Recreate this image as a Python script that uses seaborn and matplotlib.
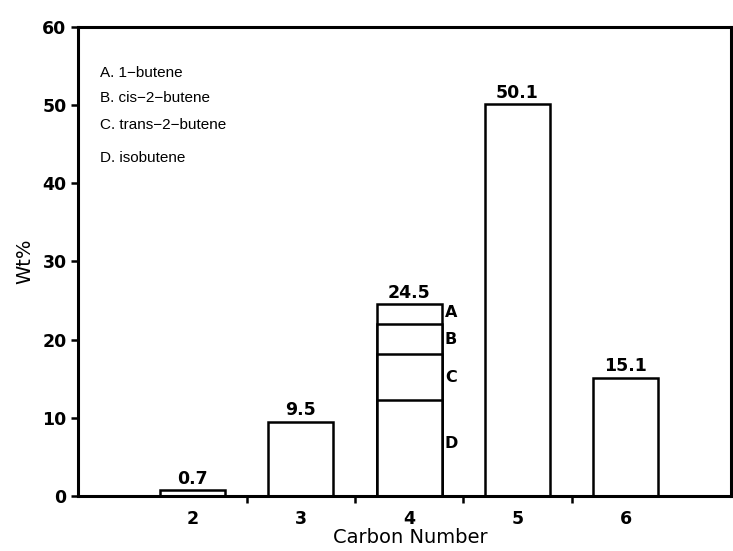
import matplotlib
matplotlib.use("Agg")
import matplotlib.pyplot as plt
import seaborn as sns
import pandas as pd

# Product distribution by carbon number
carbon_numbers = [2, 3, 4, 5, 6]
wt_percent = [0.7, 9.5, 24.5, 50.1, 15.1]

# C4 breakdown, bottom to top
c4_species = ["D", "C", "B", "A"]
c4_wt = [12.3, 5.9, 3.8, 2.5]
c4_names = ["1\u2212butene", "cis\u22122\u2212butene", "trans\u22122\u2212butene", "isobutene"]
c4_letters = ["A", "B", "C", "D"]
c4_label_y = [23.5, 20.0, 15.2, 6.7]

y_ticks = [0, 10, 20, 30, 40, 50, 60]

sns.set_theme(style="white")
plt.rcParams["font.family"] = ["DejaVu Sans"]
plt.rcParams["text.color"] = "black"
plt.rcParams["axes.labelcolor"] = "black"
plt.rcParams["xtick.color"] = "black"
plt.rcParams["ytick.color"] = "black"

fig = plt.figure(figsize=(7.33, 5.51), dpi=100)
ax = fig.add_axes([0.106, 0.10, 0.891, 0.851])

df = pd.DataFrame({"carbon": carbon_numbers, "wt": wt_percent})
bar_kw = dict(color="white", edgecolor="black", linewidth=1.8,
              native_scale=True, width=0.6, ax=ax)
sns.barplot(data=df, x="carbon", y="wt", **bar_kw)

# stacked C4 segments: overlay cumulative heights, tallest first
cum = []
total = 0.0
for v in c4_wt:
    total += v
    cum.append(round(total, 2))
for h in sorted(cum, reverse=True)[1:]:
    sns.barplot(x=[4], y=[h], **bar_kw)

bold = dict(family=["DejaVu Sans"], fontweight="bold")

# value labels
for x, v in zip(carbon_numbers, wt_percent):
    ax.annotate(f"{v:.1f}", (x, v), xytext=(0, 2), textcoords="offset points",
                ha="center", va="bottom", fontsize=12.5, **bold)

# segment letters to the right of the C4 bar
for letter, y in zip(c4_letters, c4_label_y):
    ax.text(4.33, y, letter, ha="left", va="center", fontsize=11.5, **bold)

# key
key_y = [54.1, 50.9, 47.4, 43.3]
for letter, name, y in zip(c4_letters, c4_names, key_y):
    ax.text(1.15, y, f"{letter}. {name}", ha="left", va="center", fontsize=11,
            family=["Liberation Sans", "DejaVu Sans"])

ax.set_xlim(0.94, 6.97)
ax.set_ylim(0, 60)
ax.set_yticks(y_ticks)
ax.set_yticklabels([str(t) for t in y_ticks], fontsize=12.5, **bold)
ax.set_xticks(carbon_numbers)
ax.set_xticklabels([str(c) for c in carbon_numbers], fontsize=12.5, **bold)
ax.set_xticks([2.5, 3.5, 4.5, 5.5], minor=True)
ax.tick_params(axis="x", which="major", length=0, pad=10)
ax.tick_params(axis="x", which="minor", direction="out", length=5, width=1.8, color="black", bottom=True)
ax.tick_params(axis="y", direction="out", length=5, width=1.8, color="black", left=True, pad=3)

for side in ["left", "bottom", "top", "right"]:
    ax.spines[side].set_visible(True)
    ax.spines[side].set_color("black")
    ax.spines[side].set_linewidth(2.2)

ax.set_xlabel("Carbon Number", fontsize=14, labelpad=3)
ax.xaxis.set_label_coords(0.51, -0.068)
ax.set_ylabel("Wt%", fontsize=14, labelpad=6)

fig.savefig("out.png", dpi=100, facecolor="white")
